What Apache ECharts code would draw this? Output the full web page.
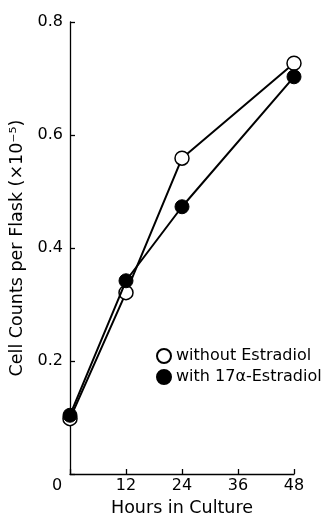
<!DOCTYPE html>
<html>
<head>
<meta charset="utf-8">
<script src="https://cdn.jsdelivr.net/npm/echarts@6/dist/echarts.min.js"></script>
<style>html,body{margin:0;padding:0;background:#fff;}#c{width:335px;height:516px;}</style>
</head>
<body>
<div id="c"></div>
<script>
var hours = [0, 12, 24, 48];
var withoutEstradiol = [0.098, 0.321, 0.559, 0.727];
var with17a = [0.104, 0.342, 0.473, 0.703];
var xTicks = [0, 12, 24, 36, 48];
var yTicks = [0.2, 0.4, 0.6, 0.8];
var seriesNames = ['without Estradiol', 'with 17\u03b1-Estradiol'];

function pairs(xs, ys) { return xs.map(function (x, i) { return [x, ys[i]]; }); }

var font = 'DejaVu Sans';
var chart = echarts.init(document.getElementById('c'), null, { renderer: 'canvas' });
chart.setOption({
  animation: false,
  backgroundColor: '#fff',
  textStyle: { fontFamily: font, color: '#000' },
  grid: { left: 70, right: 41, top: 22, bottom: 42, containLabel: false, outerBoundsMode: 'none' },
  legend: {
    orient: 'vertical', left: 151, top: 343, itemWidth: 14, itemHeight: 14, itemGap: 5,
    icon: 'circle',
    textStyle: { fontFamily: font, fontSize: 16, color: '#000' },
    data: seriesNames
  },
  xAxis: {
    type: 'value', min: 0, max: 48, interval: 12,
    name: 'Hours in Culture', nameLocation: 'middle', nameGap: 25,
    nameTextStyle: { fontFamily: font, fontSize: 17.5, color: '#000' },
    axisLine: { lineStyle: { color: '#000', width: 1.3 } },
    axisTick: { inside: true, length: 5, lineStyle: { color: '#000', width: 1.3 } },
    axisLabel: {
      margin: 4, fontFamily: font, fontSize: 16, color: '#000',
      formatter: function (v) { return v === 0 ? '{z|0}' : String(v); },
      rich: { z: { fontFamily: font, fontSize: 16, color: '#000', padding: [0, 26, 0, 0] } }
    },
    splitLine: { show: false }
  },
  yAxis: {
    type: 'value', min: 0, max: 0.8, interval: 0.2,
    name: 'Cell Counts per Flask (\u00d710\u207b\u2075)', nameLocation: 'middle', nameGap: 35, nameRotate: 90,
    nameTextStyle: { fontFamily: font, fontSize: 17.5, color: '#000' },
    axisLine: { show: true, lineStyle: { color: '#000', width: 1.3 } },
    axisTick: { show: true, inside: true, length: 5, lineStyle: { color: '#000', width: 1.3 } },
    axisLabel: {
      margin: 7, fontFamily: font, fontSize: 16, color: '#000',
      formatter: function (v) { return yTicks.some(function (t) { return Math.abs(t - v) < 1e-9; }) ? v.toFixed(1) : ''; }
    },
    splitLine: { show: false }
  },
  series: [
    {
      name: seriesNames[0], type: 'line', data: pairs(hours, withoutEstradiol),
      symbol: 'circle', symbolSize: 14, z: 2,
      lineStyle: { color: '#000', width: 2 },
      itemStyle: { color: '#fff', borderColor: '#000', borderWidth: 1.5 }
    },
    {
      name: seriesNames[1], type: 'line', data: pairs(hours, with17a),
      symbol: 'circle', symbolSize: 14, z: 3,
      lineStyle: { color: '#000', width: 2 },
      itemStyle: { color: '#000', borderColor: '#000', borderWidth: 1 }
    }
  ]
});
</script>
</body>
</html>
